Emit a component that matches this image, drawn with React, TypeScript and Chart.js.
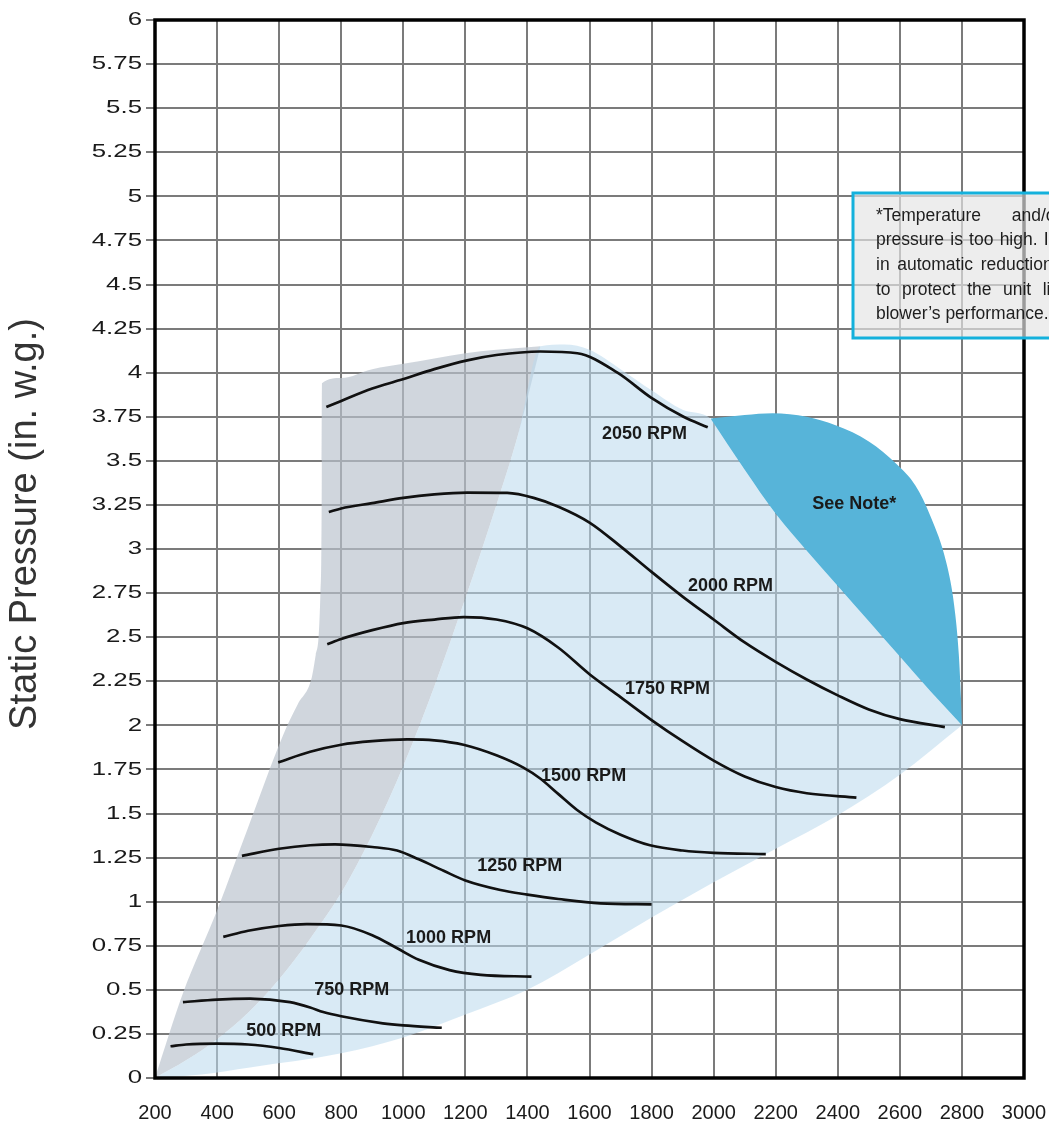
import { useEffect, useRef } from "react";
import { Chart, registerables } from "chart.js";

Chart.register(...registerables);

// ---------- axes ----------
const xTicks = [200, 400, 600, 800, 1000, 1200, 1400, 1600, 1800, 2000, 2200, 2400, 2600, 2800, 3000];
const yTicks = [0, 0.25, 0.5, 0.75, 1, 1.25, 1.5, 1.75, 2, 2.25, 2.5, 2.75, 3, 3.25, 3.5, 3.75, 4, 4.25, 4.5, 4.75, 5, 5.25, 5.5, 5.75, 6];
const yTitle = "Static Pressure (in. w.g.)";

// ---------- fan curves [airflow, static pressure] ----------
const rpm500 = [[250, 0.18], [300, 0.19], [400, 0.195], [500, 0.19], [600, 0.17], [710, 0.135]];
const rpm750 = [[290, 0.43], [400, 0.445], [506, 0.45], [635, 0.43], [700, 0.4], [742, 0.374], [800, 0.35], [934, 0.31], [1000, 0.298], [1124, 0.285]];
const rpm1000 = [[420, 0.8], [500, 0.835], [600, 0.862], [689, 0.873], [800, 0.865], [900, 0.81], [979, 0.737], [1050, 0.67], [1149, 0.612], [1250, 0.585], [1413, 0.575]];
const rpm1250 = [[480, 1.26], [600, 1.3], [700, 1.32], [780, 1.325], [900, 1.31], [980, 1.29], [1050, 1.24], [1130, 1.175], [1200, 1.12], [1313, 1.066], [1400, 1.04], [1500, 1.015], [1635, 0.99], [1800, 0.985]];
const rpm1500 = [[597, 1.79], [700, 1.85], [800, 1.89], [900, 1.91], [1013, 1.92], [1100, 1.915], [1194, 1.89], [1300, 1.83], [1387, 1.76], [1440, 1.7], [1500, 1.61], [1560, 1.52], [1620, 1.45], [1700, 1.38], [1795, 1.32], [1900, 1.29], [2000, 1.277], [2168, 1.27]];
const rpm1750 = [[755, 2.46], [800, 2.49], [900, 2.54], [1000, 2.58], [1100, 2.6], [1194, 2.614], [1300, 2.6], [1400, 2.55], [1500, 2.44], [1600, 2.29], [1700, 2.16], [1800, 2.03], [1900, 1.91], [2000, 1.8], [2100, 1.71], [2200, 1.65], [2300, 1.615], [2460, 1.59]];
const rpm2000 = [[760, 3.21], [800, 3.23], [900, 3.26], [1000, 3.29], [1100, 3.31], [1206, 3.32], [1335, 3.318], [1420, 3.29], [1500, 3.24], [1600, 3.15], [1700, 3.015], [1800, 2.87], [1900, 2.73], [2000, 2.6], [2100, 2.47], [2200, 2.36], [2300, 2.26], [2400, 2.17], [2500, 2.09], [2600, 2.035], [2745, 1.99]];
const rpm2050 = [[752, 3.805], [800, 3.84], [900, 3.91], [990, 3.958], [1100, 4.02], [1206, 4.07], [1300, 4.1], [1442, 4.12], [1561, 4.11], [1690, 4.0], [1797, 3.86], [1903, 3.75], [1981, 3.69]];

const curves = [rpm500, rpm750, rpm1000, rpm1250, rpm1500, rpm1750, rpm2000, rpm2050];
const curveNames = ["500 RPM", "750 RPM", "1000 RPM", "1250 RPM", "1500 RPM", "1750 RPM", "2000 RPM", "2050 RPM"];
const labelX = [615, 834, 1146, 1375, 1581, 1851, 2054, 1777];
const labelY = [0.267, 0.499, 0.794, 1.202, 1.713, 2.206, 2.79, 3.65];

// ---------- shaded regions ----------
const noteTop = [[1990, 3.74], [2100, 3.76], [2190, 3.77], [2300, 3.75], [2395, 3.7], [2500, 3.61], [2590, 3.48], [2650, 3.36], [2700, 3.18], [2750, 2.92], [2775, 2.68], [2790, 2.4], [2797, 2.15], [2800, 2.0]];
const noteBottom = [[1990, 3.74], [2100, 3.45], [2200, 3.2], [2300, 2.99], [2400, 2.79], [2500, 2.59], [2600, 2.39], [2700, 2.19], [2800, 2.0]];
const grayRightEdge = [[200, 0], [300, 0.1], [400, 0.22], [500, 0.37], [600, 0.56], [700, 0.79], [800, 1.05], [900, 1.38], [1000, 1.77], [1100, 2.22], [1200, 2.72], [1300, 3.25], [1370, 3.65], [1442, 4.15]];
const blueUpperEdge = [[1520, 4.16], [1600, 4.13], [1700, 4.02], [1800, 3.9], [1900, 3.79]];
const blueBottom = [[200, 0], [350, 0.02], [506, 0.06], [800, 0.14], [1000, 0.23], [1200, 0.36], [1400, 0.5], [1600, 0.7], [1800, 0.91], [2000, 1.11], [2200, 1.3], [2400, 1.49], [2600, 1.72], [2800, 2.0]];
const grayTop = [[200, 0], [290, 0.48], [400, 0.95], [500, 1.42], [614, 1.95], [660, 2.12], [705, 2.27], [718, 2.4], [727, 2.5], [733, 2.75], [736, 3.0], [737.5, 3.5], [738, 3.94], [800, 3.97], [900, 4.02], [1000, 4.05], [1100, 4.08], [1200, 4.11], [1300, 4.13], [1442, 4.15]];

const noteLabel = "See Note*";
const noteLabelX = 2453;
const noteLabelY = 3.255;
const noteLines = [
  "*Temperature and/or static",
  "pressure is too high. It will result",
  "in automatic reduction of airflow",
  "to protect the unit limiting the",
  "blower\u2019s performance.",
];

const FONT = '"Liberation Sans", Arial, Helvetica, sans-serif';

const toPts = (arr: number[][]) => arr.map(([x, y]) => ({ x, y }));

const overlayPlugin = {
  id: "overlay",
  afterDatasetsDraw(chart: any) {
    const { ctx, chartArea: a, scales } = chart;
    const xs = scales.x;
    const ys = scales.y;
    ctx.save();

    // frame
    ctx.strokeStyle = "#000";
    ctx.lineWidth = 3.5;
    ctx.strokeRect(a.left, a.top, a.right - a.left, a.bottom - a.top);

    // y tick labels (wide face, as in the source)
    ctx.fillStyle = "#1a1a1a";
    ctx.font = `19px ${FONT}`;
    ctx.textAlign = "right";
    ctx.textBaseline = "middle";
    yTicks.forEach((v) => {
      ctx.save();
      ctx.translate(a.left - 13, ys.getPixelForValue(v));
      ctx.scale(1.36, 1);
      ctx.fillText(String(v), 0, 0);
      ctx.restore();
    });

    // curve labels
    ctx.fillStyle = "#1a1a1a";
    ctx.font = `bold 18px ${FONT}`;
    ctx.textAlign = "center";
    ctx.textBaseline = "middle";
    curveNames.forEach((t, i) => {
      ctx.fillText(t, xs.getPixelForValue(labelX[i]), ys.getPixelForValue(labelY[i]));
    });
    ctx.fillText(noteLabel, xs.getPixelForValue(noteLabelX), ys.getPixelForValue(noteLabelY));

    // note box
    const bx = a.left + 698;
    const by = a.top + 173;
    const bw = 303;
    const bh = 145;
    ctx.fillStyle = "rgba(229,229,229,0.68)";
    ctx.fillRect(bx, by, bw, bh);
    ctx.strokeStyle = "#14b1dc";
    ctx.lineWidth = 3;
    ctx.strokeRect(bx, by, bw, bh);

    ctx.fillStyle = "#1e1e1e";
    ctx.font = `17.5px ${FONT}`;
    ctx.textAlign = "left";
    ctx.textBaseline = "middle";
    const tx = bx + 23;
    const tw = 257;
    noteLines.forEach((line, i) => {
      const ty = by + 23 + i * 24.6;
      const words = line.split(" ");
      if (i === noteLines.length - 1 || words.length < 2) {
        ctx.fillText(line, tx, ty);
        return;
      }
      const total = words.reduce((s, w) => s + ctx.measureText(w).width, 0);
      const gap = (tw - total) / (words.length - 1);
      let cx = tx;
      words.forEach((w) => {
        ctx.fillText(w, cx, ty);
        cx += ctx.measureText(w).width + gap;
      });
    });

    // y axis title
    ctx.save();
    ctx.translate(26, (a.top + a.bottom) / 2 - 25);
    ctx.rotate(-Math.PI / 2);
    ctx.fillStyle = "#333";
    ctx.font = `38px ${FONT}`;
    ctx.textAlign = "center";
    ctx.textBaseline = "middle";
    ctx.fillText(yTitle, 0, 0);
    ctx.restore();

    ctx.restore();
  },
};

export default function App() {
  const ref = useRef<HTMLCanvasElement | null>(null);

  useEffect(() => {
    if (!ref.current) return;
    const hidden = {
      borderColor: "rgba(0,0,0,0)",
      borderWidth: 0,
      pointRadius: 0,
      cubicInterpolationMode: "monotone" as const,
    };
    const curveSets = curves.map((c) => ({
      data: toPts(c),
      borderColor: "#111",
      borderWidth: 2.7,
      pointRadius: 0,
      fill: false,
      cubicInterpolationMode: "monotone" as const,
    }));
    const n = curveSets.length; // 8
    const datasets: any[] = [
      ...curveSets,
      { ...hidden, data: toPts(noteTop), fill: n + 1, backgroundColor: "#57b4d9" },
      { ...hidden, data: toPts(noteBottom), fill: false },
      {
        ...hidden,
        data: toPts([...grayRightEdge, ...blueUpperEdge, ...noteBottom]),
        fill: n + 3,
        backgroundColor: "rgba(189,218,238,0.57)",
      },
      { ...hidden, data: toPts(blueBottom), fill: false },
      { ...hidden, data: toPts(grayTop), fill: n + 5, backgroundColor: "rgba(186,195,205,0.68)" },
      { ...hidden, data: toPts(grayRightEdge), fill: false },
    ];

    const chart = new Chart(ref.current, {
      type: "line",
      data: { datasets },
      options: {
        animation: false,
        responsive: false,
        devicePixelRatio: 1,
        events: [],
        layout: { padding: { top: 20, right: 25, left: 0, bottom: 0 } },
        plugins: { legend: { display: false }, tooltip: { enabled: false } },
        scales: {
          x: {
            type: "linear",
            min: 200,
            max: 3000,
            afterBuildTicks: (s: any) => {
              s.ticks = xTicks.map((v) => ({ value: v }));
            },
            afterFit: (s: any) => {
              s.height = 48;
              s.paddingLeft = 0;
              s.paddingRight = 0;
            },
            grid: { color: "#7b7b7b", lineWidth: 2, drawTicks: false },
            border: { display: false },
            ticks: {
              autoSkip: false,
              maxRotation: 0,
              padding: 23,
              color: "#1a1a1a",
              font: { family: FONT, size: 20 },
              callback: (v: any) => String(v),
            },
          },
          y: {
            type: "linear",
            min: 0,
            max: 6,
            afterBuildTicks: (s: any) => {
              s.ticks = yTicks.map((v) => ({ value: v }));
            },
            afterFit: (s: any) => {
              s.width = 155;
              s.paddingTop = 0;
              s.paddingBottom = 0;
            },
            grid: { color: "#7b7b7b", lineWidth: 2, tickLength: 9 },
            border: { display: false },
            ticks: { display: false, autoSkip: false },
          },
        },
      },
      plugins: [overlayPlugin],
    });
    return () => chart.destroy();
  }, []);

  return (
    <div style={{ position: "absolute", left: 0, top: 0, width: 1049, height: 1126, background: "#fff" }}>
      <canvas ref={ref} width={1049} height={1126} />
    </div>
  );
}
